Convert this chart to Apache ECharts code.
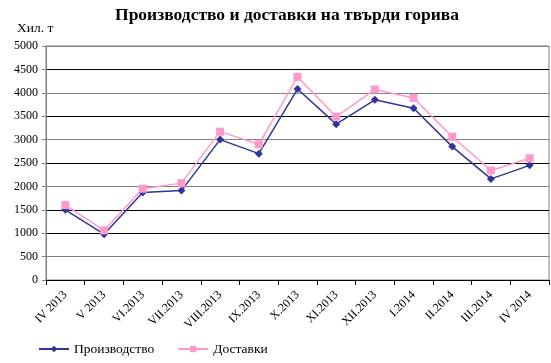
<!DOCTYPE html>
<html><head><meta charset="utf-8">
<script src="https://cdn.jsdelivr.net/npm/echarts@6/dist/echarts.min.js"></script>
<style>html,body{margin:0;padding:0;background:#fff}#c{width:551px;height:363px}</style>
</head><body><div id="c"></div>
<script>
const categories = ["IV 2013","V 2013","VI.2013","VII.2013","VIII.2013","IX.2013","X.2013","XI.2013","XII.2013","I.2014","II.2014","III.2014","IV 2014"];
const production = [1500, 980, 1870, 1910, 3000, 2700, 4080, 3330, 3850, 3670, 2850, 2160, 2450];
const deliveries = [1600, 1060, 1950, 2070, 3170, 2900, 4340, 3490, 4070, 3890, 3060, 2340, 2600];
const yTicks = [0,500,1000,1500,2000,2500,3000,3500,4000,4500,5000];
const font = '"Liberation Serif","Times New Roman",serif';
const chart = echarts.init(document.getElementById('c'), null, {renderer:'canvas'});
chart.setOption({
  animation:false,
  backgroundColor:'#fff',
  title:[
    {text:'Производство и доставки на твърди горива', left:282, textAlign:'center', top:1,
     textStyle:{fontFamily:font,fontSize:17.5,fontWeight:'bold',color:'#000'}},
    {text:'Хил. т', left:12, top:16, textStyle:{fontFamily:font,fontSize:13.5,fontWeight:'normal',color:'#000'}}
  ],
  grid:{left:46,right:2,top:46,bottom:83,show:true,borderColor:'#808080',borderWidth:1},
  legend:{bottom:2,left:33,itemGap:23,itemWidth:30,itemHeight:8,
    textStyle:{fontFamily:font,fontSize:13.5,color:'#000'},
    data:['Производство','Доставки']},
  xAxis:{type:'category',data:categories,boundaryGap:true,
    axisLine:{lineStyle:{color:'#000',width:1}},
    axisTick:{show:true,length:5,lineStyle:{color:'#000'}},
    axisLabel:{rotate:45,fontFamily:font,fontSize:12,color:'#000',margin:13,interval:0}},
  yAxis:{type:'value',min:0,max:5000,interval:500,
    axisLine:{show:true,lineStyle:{color:'#808080'}},
    axisTick:{show:true,length:4,lineStyle:{color:'#808080'}},
    axisLabel:{fontFamily:font,fontSize:12,color:'#000',margin:8,
      formatter:v=>yTicks.includes(v)?String(v):''},
    splitLine:{lineStyle:{color:['#000','#808080','#000','#000','#808080','#000','#808080','#000','#808080','#000','#808080'],width:1}}},
  series:[
    {name:'Производство',type:'line',data:production,symbol:'diamond',symbolSize:8,
     itemStyle:{color:'#333399'},lineStyle:{color:'#333399',width:1.5}},
    {name:'Доставки',type:'line',data:deliveries,symbol:'rect',symbolSize:8,
     itemStyle:{color:'#FF99CC'},lineStyle:{color:'#FF99CC',width:1.5}}
  ]
});
</script></body></html>
